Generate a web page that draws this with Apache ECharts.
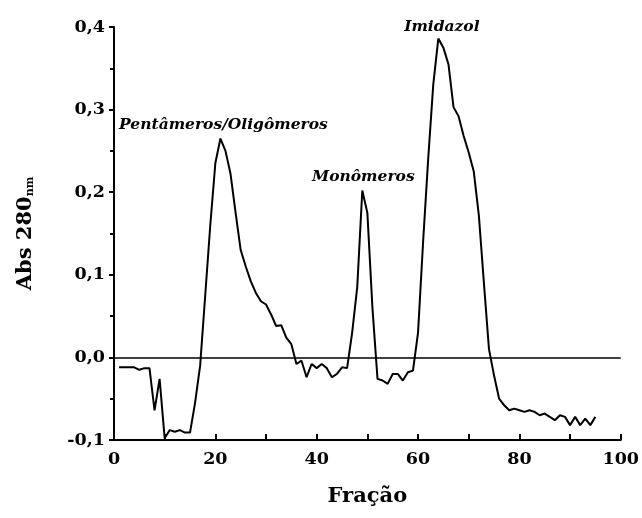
<!DOCTYPE html>
<html>
<head>
<meta charset="utf-8">
<script src="https://cdn.jsdelivr.net/npm/echarts@6/dist/echarts.min.js"></script>
<style>html,body{margin:0;padding:0;background:#fff}#c{width:642px;height:518px}</style>
</head>
<body>
<div id="c"></div>
<script>
const fractions = [];
for (let i = 1; i <= 95; i++) fractions.push(i);
const absorbance = [
 -0.012,-0.012,-0.012,-0.012,-0.015,-0.013,-0.013,-0.064,-0.026,-0.098,
 -0.088,-0.090,-0.088,-0.091,-0.091,-0.055,-0.010,0.075,0.160,0.235,
 0.265,0.250,0.222,0.175,0.130,0.110,0.092,0.078,0.068,0.064,
 0.052,0.038,0.039,0.024,0.016,-0.008,-0.004,-0.024,-0.008,-0.013,
 -0.008,-0.013,-0.024,-0.020,-0.012,-0.013,0.030,0.085,0.202,0.175,
 0.060,-0.026,-0.028,-0.032,-0.020,-0.020,-0.028,-0.018,-0.016,0.030,
 0.140,0.240,0.330,0.386,0.375,0.355,0.303,0.292,0.268,0.248,
 0.225,0.172,0.090,0.010,-0.022,-0.050,-0.058,-0.064,-0.062,-0.064,
 -0.066,-0.064,-0.066,-0.070,-0.068,-0.072,-0.076,-0.070,-0.072,-0.082,
 -0.072,-0.082,-0.074,-0.082,-0.072
];
const peakLabels = ['Pentâmeros/Oligômeros', 'Monômeros', 'Imidazol'];
const peakX = [21.6, 49.2, 64.7];
const peakY = [0.281, 0.219, 0.4];

const serif = '"DejaVu Serif", "Liberation Serif", serif';
const chart = echarts.init(document.getElementById('c'));
chart.setOption({
  animation: false,
  grid: {left: 114, right: 18, top: 27, bottom: 78},
  xAxis: {
    type: 'value', min: 0, max: 100, interval: 20,
    name: 'Fração', nameLocation: 'middle', nameGap: 46,
    nameTextStyle: {fontFamily: serif, fontWeight: 'bold', fontSize: 21, color: '#000'},
    axisLine: {onZero: false, lineStyle: {color: '#000', width: 2}},
    axisTick: {inside: true, length: 6, lineStyle: {color: '#000', width: 2}},
    minorTick: {show: true, splitNumber: 2, length: 6, lineStyle: {color: '#000', width: 2}},
    splitLine: {show: false},
    axisLabel: {fontFamily: serif, fontWeight: 'bold', fontSize: 17.5, color: '#000', margin: 10}
  },
  yAxis: {
    type: 'value', min: -0.1, max: 0.4, interval: 0.1,
    name: '{a|Abs 280}{s|nm}', nameLocation: 'middle', nameGap: 78, nameRotate: 90,
    nameTextStyle: {
      rich: {
        a: {fontFamily: serif, fontWeight: 'bold', fontSize: 21, color: '#000'},
        s: {fontFamily: serif, fontWeight: 'bold', fontSize: 11, color: '#000', verticalAlign: 'bottom', padding: [9, 0, 0, 0]}
      }
    },
    axisLine: {lineStyle: {color: '#000', width: 2}},
    axisTick: {inside: false, length: 5, lineStyle: {color: '#000', width: 2}},
    minorTick: {show: true, splitNumber: 2, length: 4, lineStyle: {color: '#000', width: 2}},
    splitLine: {show: false},
    axisLabel: {fontFamily: serif, fontWeight: 'bold', fontSize: 17.5, color: '#000', margin: 9,
      formatter: v => v.toFixed(1).replace('.', ',')}
  },
  series: [{
    type: 'line',
    data: fractions.map((f, i) => [f, absorbance[i]]),
    showSymbol: false,
    lineStyle: {color: '#000', width: 2},
    markLine: {
      silent: true, symbol: 'none',
      lineStyle: {color: '#000', width: 1.5, type: 'solid'},
      label: {show: false},
      data: [{yAxis: 0}]
    },
    markPoint: {
      symbol: 'circle', symbolSize: 0,
      label: {show: true, position: 'inside', fontFamily: serif, fontStyle: 'italic', fontWeight: 'bold', fontSize: 15.5, color: '#000',
        formatter: p => p.name},
      data: peakLabels.map((n, i) => ({name: n, coord: [peakX[i], peakY[i]]}))
    }
  }]
});
</script>
</body>
</html>
